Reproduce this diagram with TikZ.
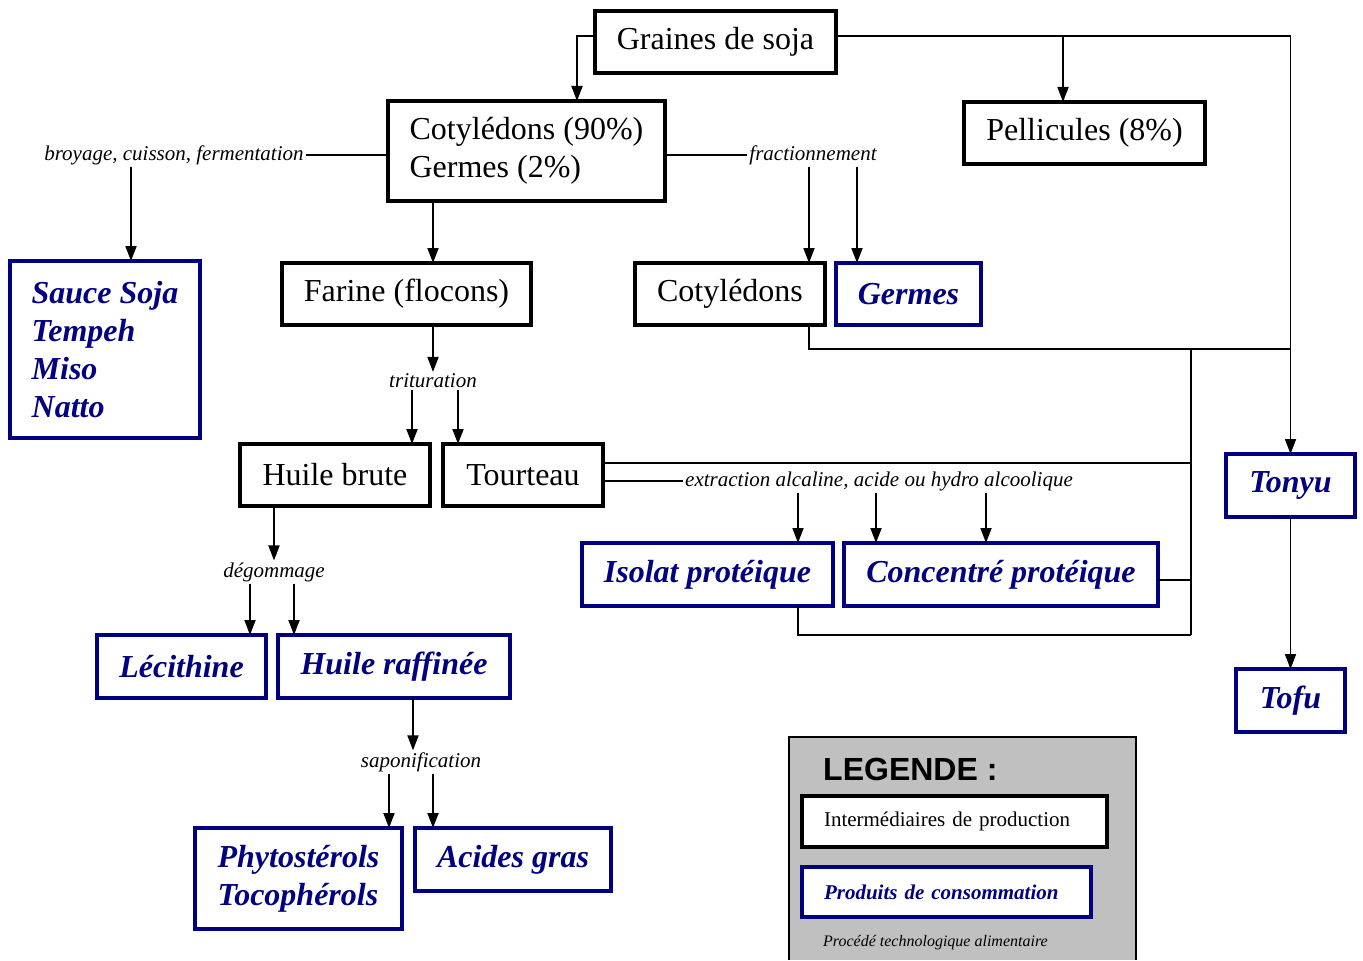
\documentclass[tikz,border=0pt]{standalone}
\usepackage{fontspec}
\setmainfont{Liberation Serif}
\newfontfamily\legendfont{Liberation Sans}
\usepackage{tikz}
\usetikzlibrary{arrows.meta, positioning}

\definecolor{prodblue}{HTML}{000080}
\definecolor{legendgray}{HTML}{C0C0C0}

\begin{document}
\begin{tikzpicture}[x=1pt, y=-1pt,
    inter/.style={draw, fill=white, line width=4pt, anchor=north west, inner sep=0pt, outer sep=0pt, align=left, font=\fontsize{32}{38}\selectfont},
    produit/.style={draw=prodblue, fill=white, text=prodblue, line width=3.5pt, anchor=north west, inner sep=0pt, outer sep=0pt, align=left, font=\fontsize{32}{38}\selectfont\bfseries\itshape},
    procede/.style={inner sep=2pt, outer sep=0pt, font=\fontsize{21}{25}\selectfont\itshape},
    conn/.style={line width=1.8pt},
    arr/.style={conn, -{Triangle[length=15pt, width=11pt]}}]
    \fill[white] (0,0) rectangle (1363,960);

    % Boites
    \node[inter, minimum width=241, minimum height=62] (graines) at (595,11) {Graines de soja};
    \node[inter, minimum width=277, minimum height=100] (cotyl) at (388,101) {Cotylédons (90\%)\\Germes (2\%)};
    \node[inter, minimum width=241, minimum height=62] (pell) at (964,102) {Pellicules (8\%)};
    \node[produit, minimum width=190, minimum height=177] (sauce) at (10,261) {Sauce Soja\\Tempeh\\Miso\\Natto};
    \node[inter, minimum width=249, minimum height=62] (farine) at (282,263) {Farine (flocons)};
    \node[inter, minimum width=190, minimum height=62] (cotyl2) at (635,263) {Cotylédons};
    \node[produit, minimum width=145, minimum height=62] (germes) at (836,263) {Germes};
    \node[inter, minimum width=190, minimum height=62] (hb) at (240,444) {Huile brute};
    \node[inter, minimum width=160, minimum height=62] (tour) at (443,444) {Tourteau};
    \node[produit, minimum width=129, minimum height=63] (tonyu) at (1226,454) {Tonyu};
    \node[produit, minimum width=251, minimum height=63] (isolat) at (582,543) {Isolat protéique};
    \node[produit, minimum width=314, minimum height=63] (conc) at (844,543) {Concentré protéique};
    \node[produit, minimum width=169, minimum height=63] (leci) at (97,635) {Lécithine};
    \node[produit, minimum width=232, minimum height=63] (hr) at (278,635) {Huile raffinée};
    \node[produit, minimum width=109, minimum height=63] (tofu) at (1236,669) {Tofu};
    \node[produit, minimum width=207, minimum height=101] (phyto) at (195,828) {Phytostérols\\Tocophérols};
    \node[produit, minimum width=196, minimum height=63] (acides) at (415,828) {Acides gras};

    % Procedes
    \node[procede] (broy) at (174,155) {broyage, cuisson, fermentation};
    \node[procede] (fract) at (813,155) {fractionnement};
    \node[procede] (tritu) at (433,381) {trituration};
    \node[procede] (extr) at (879,481) {extraction alcaline, acide ou hydro alcoolique};
    \node[procede] (degom) at (274,572) {dégommage};
    \node[procede] (sapon) at (421,762) {saponification};

    % Graines de soja
    \coordinate (jpell) at (1063,36);
    \draw[arr] ([yshift=6]graines.west) -| ([xshift=50.5]cotyl.north);
    \draw[arr] ([yshift=6]graines.east) -| (tonyu.north);
    \draw[arr] (jpell) -- (jpell |- pell.north);

    % Cotyledons et germes
    \draw[conn] ([yshift=-4]cotyl.west) -- (broy.east);
    \draw[arr] ([xshift=-43]broy.south) -- ([xshift=26]sauce.north);
    \draw[arr] ([xshift=-93.5]cotyl.south) -- ([xshift=26.5]farine.north);
    \draw[conn] ([yshift=-4]cotyl.east) -- (fract.west);
    \draw[arr] ([xshift=-4]fract.south) -- ([xshift=79]cotyl2.north);
    \draw[arr] ([xshift=44]fract.south) -- ([xshift=-51.5]germes.north);

    % vers Tonyu
    \coordinate (jtonyu) at (1290.5,349);
    \coordinate (jhaut) at (1191,349);
    \coordinate (jconc) at (1191,580);
    \coordinate (jbas) at (1191,635);
    \draw[conn] ([xshift=79]cotyl2.south) |- (jtonyu);
    \draw[conn] (jhaut) -- (jbas);

    % Farine
    \draw[arr] ([xshift=26.5]farine.south) -- (tritu.north);
    \draw[arr] ([xshift=-21]tritu.south) -- ([xshift=77]hb.north);
    \draw[arr] ([xshift=25]tritu.south) -- ([xshift=-65]tour.north);

    % Tourteau
    \draw[conn] ([yshift=12]tour.east) -| (jhaut);
    \draw[conn] ([yshift=-6]tour.east) -- (extr.west);
    \draw[arr] ([xshift=-81]extr.south) -- ([xshift=90.5]isolat.north);
    \draw[arr] ([xshift=-3]extr.south) -- ([xshift=-125]conc.north);
    \draw[arr] ([xshift=107]extr.south) -- ([xshift=-15]conc.north);
    \draw[conn] ([xshift=90.5]isolat.south) |- (jbas);
    \draw[conn] ([yshift=-5.5]conc.east) -- (jconc);

    % Huile brute
    \draw[arr] ([xshift=-61]hb.south) -- (degom.north);
    \draw[arr] ([xshift=-24]degom.south) -- ([xshift=68.5]leci.north);
    \draw[arr] ([xshift=20]degom.south) -- ([xshift=-100]hr.north);
    \draw[arr] ([xshift=19]hr.south) -- ([xshift=-8]sapon.north);
    \draw[arr] ([xshift=-32]sapon.south) -- ([xshift=90.5]phyto.north);
    \draw[arr] ([xshift=12]sapon.south) -- ([xshift=-80]acides.north);

    % Tonyu
    \draw[arr] (tonyu.south) -- (tofu.north);

    % Legende
    \fill[legendgray] (789,737) rectangle (1136,960);
    \draw[line width=1.5pt] (789,960) |- (1136,737) -- (1136,960);
    \node[anchor=west, inner sep=0pt, font=\legendfont\fontsize{32}{38}\selectfont\bfseries] (legende) at (823,769) {LEGENDE :};
    \node[inter, inner xsep=22pt, text width=261pt, minimum height=51, font=\fontsize{21}{25}\selectfont] (legint) at (802,796) {Intermédiaires de production};
    \node[produit, inner xsep=22pt, text width=245pt, minimum height=50, font=\fontsize{21}{25}\selectfont\bfseries\itshape] (legprod) at (802,867) {Produits de consommation};
    \node[anchor=west, inner sep=0pt, font=\fontsize{16}{19}\selectfont\itshape] (legproc) at (823,943) {Procédé technologique alimentaire};
\end{tikzpicture}
\end{document}
